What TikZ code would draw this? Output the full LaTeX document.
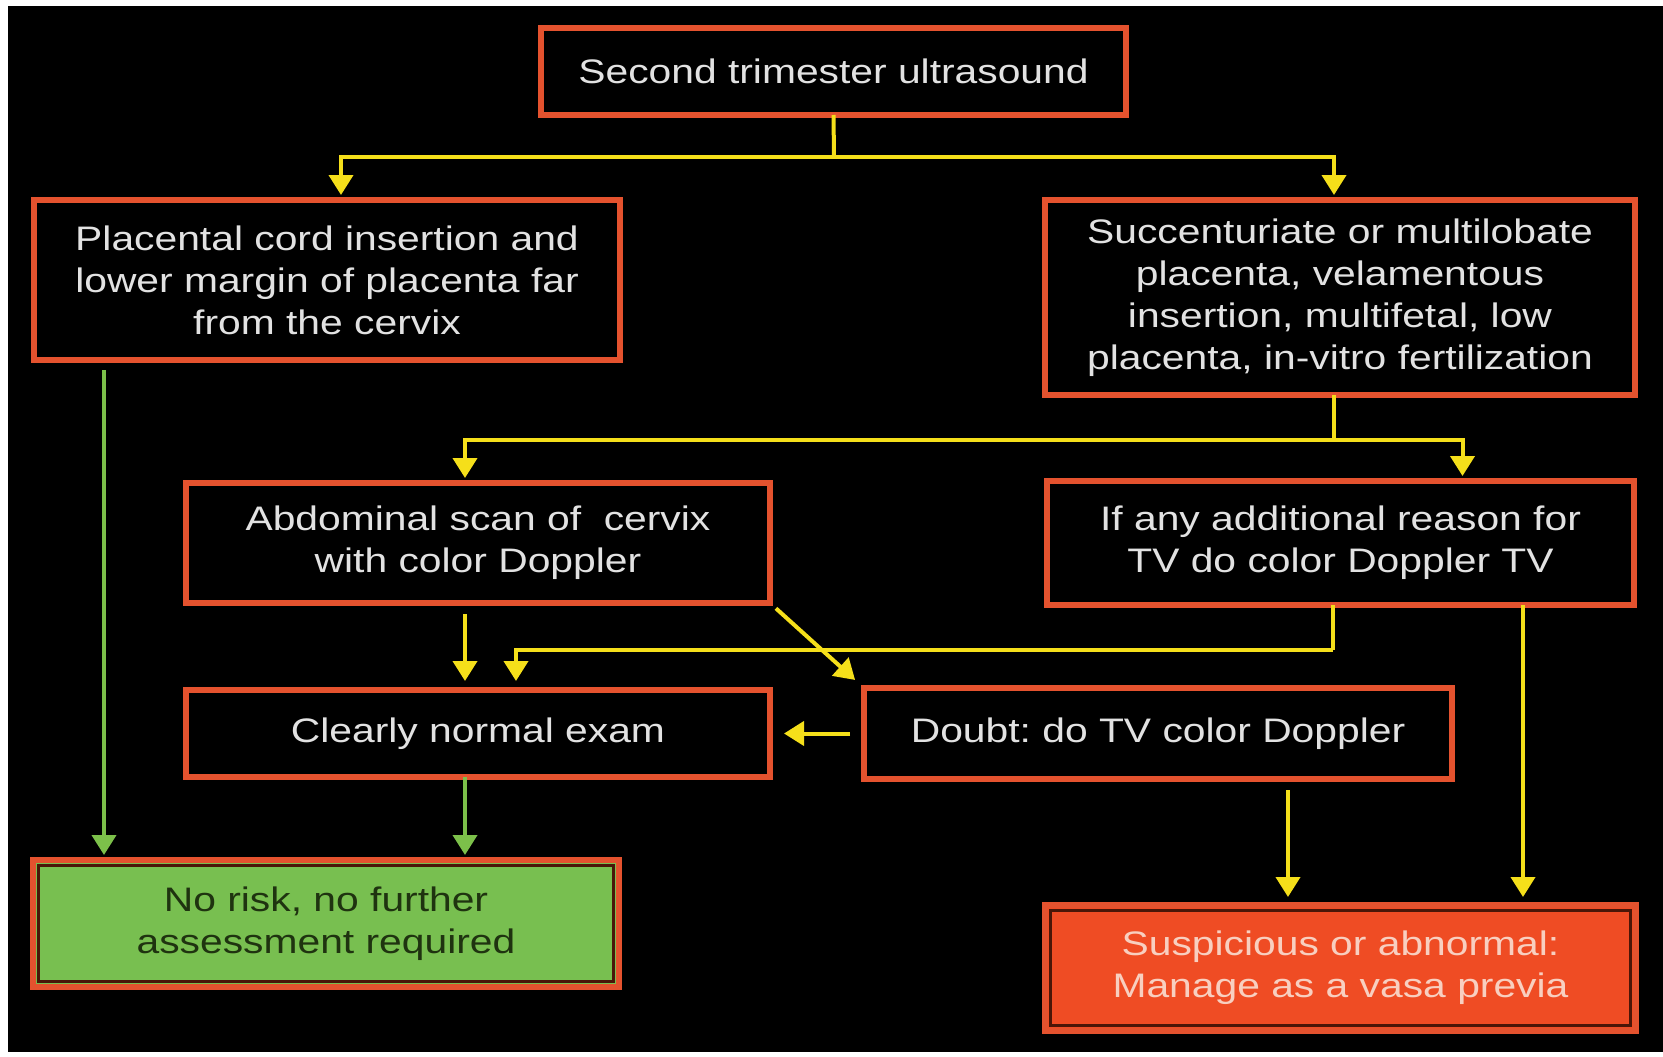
\documentclass[tikz,border=0pt]{standalone}
\usepackage{fontspec}
\newfontfamily\boxfont[FakeStretch=1.2]{Liberation Sans}
\usetikzlibrary{arrows.meta,calc}
\definecolor{boxred}{HTML}{E4522E}
\definecolor{yel}{HTML}{F5DF1A}
\definecolor{grn}{HTML}{7CC04A}
\definecolor{txt}{HTML}{E2E2E2}
\definecolor{fillgreen}{HTML}{78BF50}
\definecolor{fillred}{HTML}{EF4C24}
\definecolor{darkgreentext}{HTML}{1F3310}
\definecolor{pinktext}{HTML}{F8CFC0}
\definecolor{darkline}{HTML}{4A1608}
\frenchspacing
\begin{document}
\begin{tikzpicture}[x=1pt,y=-1pt,
  box/.style={draw=boxred, line width=6pt, fill=black, text=txt,
    font=\boxfont\fontsize{34}{42}\selectfont, align=center,
    inner sep=0pt, outer sep=0pt},
  greenbox/.style={box, fill=fillgreen, text=darkgreentext},
  redbox/.style={box, fill=fillred, text=pinktext},
  innerline/.style={draw=darkline, line width=2.5pt},
  yl/.style={draw=yel, line width=4pt},
  ya/.style={yl, -{Triangle[width=24pt,length=20pt]}},
  ga/.style={draw=grn, line width=4pt, -{Triangle[width=24pt,length=20pt]}}]
\useasboundingbox (0,0) rectangle (1663,1057);
\fill[white] (0,0) rectangle (1663,1057);
\fill[black] (8,6) rectangle (1663,1052);

\node[box, minimum width=585pt, minimum height=87pt] (top) at (833.5,71.5)
  {Second trimester ultrasound};
\node[box, minimum width=586pt, minimum height=160pt] (plac) at (327,280)
  {Placental cord insertion and\\lower margin of placenta far\\from the cervix};
\node[box, minimum width=590pt, minimum height=195pt] (succ) at (1340,297.5)
  {Succenturiate or multilobate\\placenta, velamentous\\insertion, multifetal, low\\placenta, in-vitro fertilization};
\node[box, minimum width=584pt, minimum height=120pt] (abd) at (478,543)
  {Abdominal scan of~ cervix\\with color Doppler};
\node[box, minimum width=587pt, minimum height=124pt] (ifany) at (1340.5,543)
  {If any additional reason for\\TV do color Doppler TV};
\node[box, minimum width=584pt, minimum height=87pt] (clearly) at (478,733.5)
  {Clearly normal exam};
\node[box, minimum width=588pt, minimum height=91pt] (doubt) at (1158,733.5)
  {Doubt: do TV color Doppler};
\node[greenbox, minimum width=586pt, minimum height=127pt] (norisk) at (326,923.5)
  {No risk, no further\\assessment required};
\node[redbox, minimum width=591pt, minimum height=126pt] (susp) at (1340.5,968)
  {Suspicious or abnormal:\\Manage as a vasa previa};
\draw[innerline] ([shift={(5.5,5.5)}]norisk.north west) rectangle ([shift={(-5.5,-5.5)}]norisk.south east);
\draw[innerline] ([shift={(5.5,5.5)}]susp.north west) rectangle ([shift={(-5.5,-5.5)}]susp.south east);

% top split
\coordinate (j1) at (834,157);
\draw[yl] (top.south) -- (j1);
\draw[ya, shorten >=5pt] (j1) -| ($(plac.north)+(14,0)$);
\draw[ya, shorten >=5pt] (j1) -| ($(succ.north)+(-6,0)$);

% second split
\coordinate (s1) at ($(succ.south)+(-6,0)$);
\coordinate (j2) at (s1 |- 0,440);
\draw[yl] (s1) -- (j2);
\draw[ya, shorten >=5pt] (j2) -| ($(abd.north)+(-13,0)$);
\draw[ya, shorten >=5pt] (j2) -| ($(ifany.north)+(122,0)$);

% abdominal to clearly normal
\coordinate (a1) at ($(abd.south)+(-13,0)$);
\draw[ya, shorten <=11pt, shorten >=9pt] (a1) -- (a1 |- clearly.north);

% if any back to clearly normal
\coordinate (i2) at ($(ifany.south)+(-8,0)$);
\coordinate (j3) at (i2 |- 0,650);
\draw[yl] (i2) -- (j3);
\draw[ya, shorten >=9pt] (j3) -| ($(clearly.north)+(38,0)$);

% abdominal diagonal to doubt
\draw[ya, shorten <=8pt, shorten >=12pt] (abd.south east) -- (doubt.north west);

% doubt to clearly normal
\draw[ya, shorten <=14pt, shorten >=14pt] (doubt.west) -- (clearly.east);

% doubt to suspicious
\coordinate (d1) at ($(doubt.south)+(130,0)$);
\draw[ya, shorten <=11pt, shorten >=8pt] (d1) -- (d1 |- susp.north);

% if any to suspicious
\coordinate (i1) at ($(ifany.south)+(182.5,0)$);
\draw[ya, shorten >=8pt] (i1) -- (i1 |- susp.north);

% green arrows
\coordinate (p1) at ($(plac.south)+(-223,0)$);
\draw[ga, shorten <=10pt, shorten >=5pt] (p1) -- (p1 |- norisk.north);
\coordinate (c1) at ($(clearly.south)+(-13,0)$);
\draw[ga, shorten >=5pt] (c1) -- (c1 |- norisk.north);
\end{tikzpicture}
\end{document}
